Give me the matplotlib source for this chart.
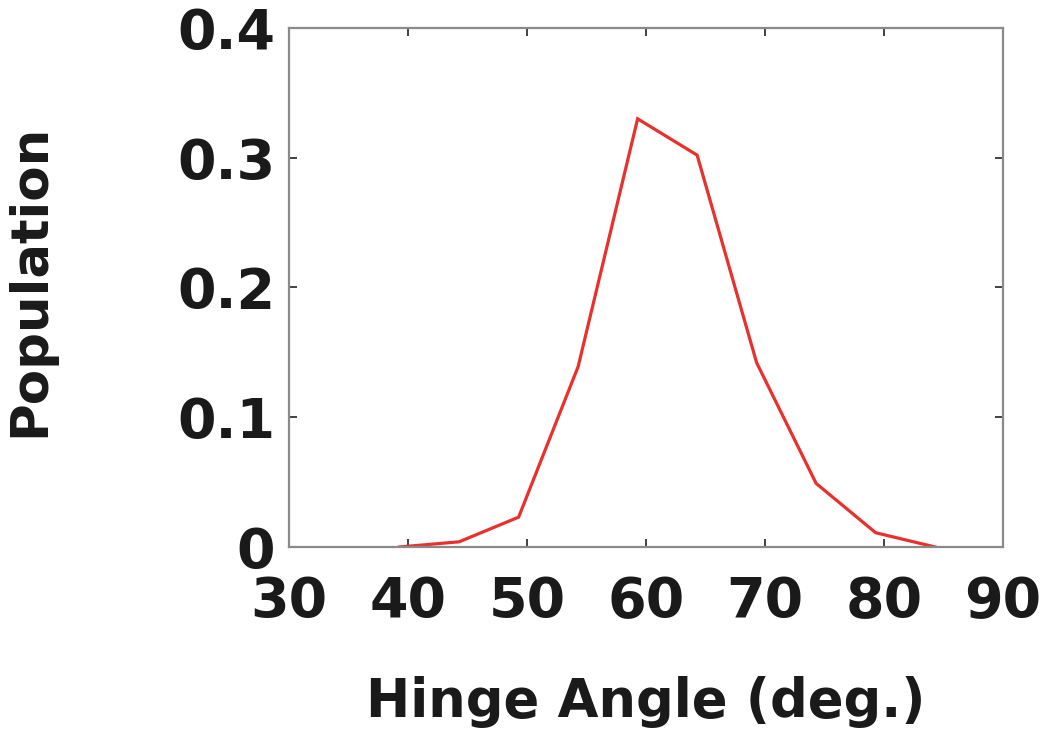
import matplotlib
matplotlib.use("Agg")
import matplotlib.pyplot as plt

# hinge angle distribution
angle_deg = [39.3, 44.3, 49.3, 54.3, 59.3, 64.3, 69.3, 74.3, 79.3, 84.3]
population = [0.0, 0.004, 0.023, 0.139, 0.330, 0.302, 0.142, 0.049, 0.011, 0.0]

x_ticks = [30, 40, 50, 60, 70, 80, 90]
y_ticks = [0, 0.1, 0.2, 0.3, 0.4]
y_tick_labels = ["0", "0.1", "0.2", "0.3", "0.4"]

plt.rcParams['font.family'] = ['DejaVu Sans']
plt.rcParams['font.weight'] = 'bold'
text_color = '#1a1a1a'

fig = plt.figure(figsize=(10.5, 7.44), dpi=100)
ax = fig.add_axes([0.2752, 0.2648, 0.680, 0.6976])

ax.plot(angle_deg, population, color='#e8302c', lw=2.3, solid_joinstyle='miter')

ax.set_xlim(30, 90)
ax.set_ylim(0, 0.4)
ax.set_xticks(x_ticks)
ax.set_yticks(y_ticks)
ax.set_yticklabels(y_tick_labels)

for side in ax.spines.values():
    side.set_color('#8a8a8a')
    side.set_linewidth(1.6)

ax.tick_params(direction='in', length=6, width=1.3, color='#333333',
               top=True, right=True, labelsize=40, labelcolor=text_color)
ax.tick_params(axis='x', pad=20)
ax.tick_params(axis='y', pad=10)

ax.set_xlabel('Hinge Angle (deg.)', fontsize=38, fontweight='bold',
              color=text_color, labelpad=34)
ax.set_ylabel('Population', fontsize=37, fontweight='bold', color=text_color)
ax.yaxis.set_label_coords(-0.328, 0.514)

fig.savefig('out.png', dpi=100)
